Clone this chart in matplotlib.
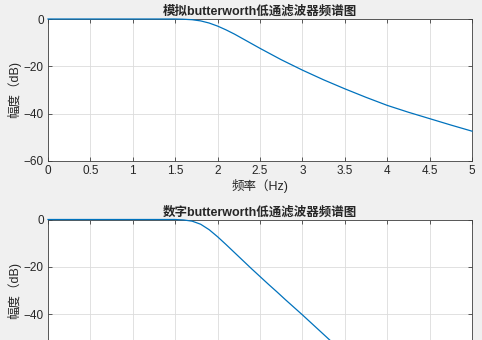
import numpy as np
import matplotlib
matplotlib.use("Agg")
import matplotlib.pyplot as plt

# ---- data ------------------------------------------------------------------

# analog butterworth low pass response (Hz, dB)
freq_analog = [0, 0.5, 1.0, 1.5, 1.6, 1.7, 1.8, 1.9, 2.0, 2.1, 2.2, 2.3, 2.4,
               2.5, 2.75, 3.0, 3.25, 3.5, 3.75, 4.0, 4.25, 4.5, 4.75, 5.0]
mag_analog = [0, 0, 0, 0, -0.1, -0.3, -0.8, -1.7, -3.0, -4.6, -6.4, -8.4, -10.4,
              -12.4, -17.2, -21.6, -25.7, -29.5, -33.1, -36.5, -39.4, -42.1,
              -44.8, -47.4]

# digital butterworth low pass response (Hz, dB)
freq_digital = [0, 0.5, 1.0, 1.5, 1.6, 1.7, 1.8, 1.9, 2.0, 2.1, 2.2, 2.3, 2.4,
                2.5, 2.6, 2.7, 2.8, 2.9, 3.0, 3.1, 3.2, 3.3, 3.4, 3.5]
mag_digital = [0, 0, 0, 0, -0.2, -0.7, -2.0, -4.3, -7.3, -10.6, -14.0, -17.4,
               -20.8, -24.1, -27.4, -30.6, -33.9, -37.1, -40.3, -43.6, -46.9,
               -50.2, -53.5, -56.8]

x_ticks = [0, 0.5, 1, 1.5, 2, 2.5, 3, 3.5, 4, 4.5, 5]
y_ticks = [-60, -40, -20, 0]

title_analog = "模拟butterworth低通滤波器频谱图"
title_digital = "数字butterworth低通滤波器频谱图"
x_label = "频率（Hz)"
y_label = "幅度（dB)"

# ---- style -----------------------------------------------------------------

plt.rcParams["font.family"] = ["Liberation Sans", "Noto Sans CJK SC"]
line_color = "#0072BD"
axis_color = "#404040"

fig = plt.figure(figsize=(4.82, 3.4), dpi=100, facecolor="#f0f0f0")

# second axes runs past the bottom edge, like the cropped screenshot
ax1 = fig.add_axes([0.0996, 0.5265, 0.8797, 0.4176])
ax2 = fig.add_axes([0.0996, -0.0632, 0.8797, 0.4176])


def style_axes(ax, yt):
    ax.set_facecolor("white")
    ax.set_xlim(0, 5)
    ax.set_ylim(-60, 0)
    ax.set_xticks(x_ticks)
    ax.set_xticklabels([f"{t:g}" for t in x_ticks])
    ax.set_yticks(yt)
    ax.grid(True, color="#dcdcdc", linewidth=0.6)
    ax.set_axisbelow(True)
    ax.tick_params(direction="in", length=3, width=0.6, color=axis_color,
                   labelcolor="#262626", labelsize=8.5, top=True, right=True,
                   pad=3)
    for s in ax.spines.values():
        s.set_color(axis_color)
        s.set_linewidth(0.6)
    ax.set_ylabel(y_label, fontsize=9, color="#262626", labelpad=2)


style_axes(ax1, y_ticks)
ax1.plot(freq_analog, mag_analog, color=line_color, linewidth=0.9,
         zorder=5, clip_on=False)
ax1.set_title(title_analog, fontsize=9, fontweight="bold", color="#262626",
              pad=3)
ax1.set_xlabel(x_label, fontsize=9, color="#262626", labelpad=1)

# only the upper part of the second plot is visible, -60 falls off the image
style_axes(ax2, y_ticks[1:])
ax2.tick_params(labelbottom=False)
ax2.plot(freq_digital, mag_digital, color=line_color, linewidth=0.9,
         zorder=5, clip_on=False)
ax2.set_title(title_digital, fontsize=9, fontweight="bold", color="#262626",
              pad=3)

fig.savefig("out.png", dpi=100, facecolor=fig.get_facecolor())
